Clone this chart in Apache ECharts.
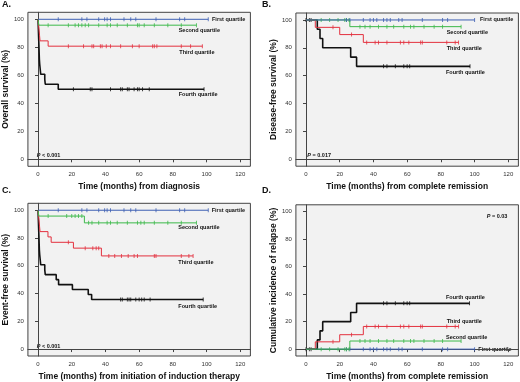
<!DOCTYPE html>
<html>
<head>
<meta charset="utf-8">
<script src="https://cdn.jsdelivr.net/npm/echarts@6/dist/echarts.min.js"></script>
<style>
  html, body { margin: 0; padding: 0; background: #fff; }
  #chart { width: 520px; height: 382px; }
</style>
</head>
<body>
<div id="chart"></div>
<script>
// tick labels
const xTicks = [0, 20, 40, 60, 80, 100, 120];
const yTicks = [0, 20, 40, 60, 80, 100];

// A. overall survival
const aFirstT = [0, 101];
const aFirstS = [100, 100];
const aFirstCens = [12, 26, 29, 36, 39.5, 41, 43, 51, 55, 58, 70, 84, 87, 101];
const aSecondT = [0, 0.5, 94];
const aSecondS = [100, 95.8, 95.8];
const aSecondCens = [6, 18, 22, 24, 26, 28, 30, 36, 41, 43, 47, 53, 59, 60, 63, 69, 77, 85, 94];
const aThirdT = [0, 0.3, 0.6, 0.9, 1.2, 6, 97.5];
const aThirdS = [100, 96.2, 92.3, 88.5, 84.6, 80.8, 80.8];
const aThirdCens = [18, 27, 32, 33, 37, 38, 40.5, 43, 49, 56, 60, 68, 69, 70.5, 85, 90.5, 97.5];
const aFourthT = [0, 0.2, 0.4, 0.6, 0.8, 1.0, 1.3, 1.6, 4, 4.3, 12, 98.5];
const aFourthS = [100, 92.9, 85.7, 78.6, 71.4, 67.9, 64.3, 60.7, 57.1, 53.6, 50, 50];
const aFourthCens = [21, 31, 32, 43, 49, 50, 53, 54, 57, 59, 60, 62, 66, 98.5];

// B. disease-free survival
const bFirstT = [0, 100];
const bFirstS = [100, 100];
const bFirstCens = [24, 26, 34, 38, 40, 42, 46, 48, 50, 55, 57, 69, 81, 84, 100];
const bSecondT = [0, 26, 92];
const bSecondS = [100, 95.2, 95.2];
const bSecondCens = [9, 14, 19, 23, 24, 25.5, 32, 35, 38, 43, 48, 52, 58, 62, 64, 70, 76, 81, 92];
const bThirdT = [0, 5.5, 20, 34, 90.5];
const bThirdS = [100, 94.7, 89.5, 83.9, 83.9];
const bThirdCens = [16, 27, 36, 41, 43, 48, 56, 58, 61, 68, 69, 83.5, 88.5, 90.5];
const bFourthT = [0, 6.7, 8.3, 9.9, 26.5, 30, 97.3];
const bFourthS = [100, 93.3, 86.7, 80, 73.3, 66.7, 66.7];
const bFourthCens = [0, 2, 3, 46, 48, 53, 58, 60, 61.5, 97.3];

// C. event-free survival
const cFirstT = [0, 101];
const cFirstS = [100, 100];
const cFirstCens = [12, 26, 29, 36, 39.5, 41, 43, 51, 55, 58, 70, 84, 87, 101];
const cSecondT = [0, 0.5, 27.5, 94];
const cSecondS = [100, 95.8, 90.9, 90.9];
const cSecondCens = [6, 17, 20, 22, 24, 26, 30, 32, 36, 41, 43, 47, 53, 59, 61, 63, 69, 77, 85, 94];
const cThirdT = [0, 0.3, 0.6, 0.9, 1.2, 5.9, 7.8, 21, 37.6, 92];
const cThirdS = [100, 96.2, 92.3, 88.5, 84.6, 80.8, 76.9, 72.7, 67.1, 67.1];
const cThirdCens = [18, 28, 32.5, 34.5, 36, 42, 45.5, 49.5, 53.5, 57, 59, 69, 70, 85, 89.5, 92];
const cFourthT = [0, 0.2, 0.4, 0.6, 0.8, 1.0, 1.3, 1.6, 4, 4.3, 10.8, 12.2, 20.4, 29.8, 31.8, 98];
const cFourthS = [100, 92.9, 85.7, 78.6, 71.4, 67.9, 64.3, 60.7, 57.1, 53.6, 50, 46.4, 42.9, 39.3, 35.7, 35.7];
const cFourthCens = [49, 50, 53, 54, 55, 58, 60, 61.5, 63, 66.5, 98];

// D. cumulative incidence of relapse
const dFirstT = [0, 100];
const dFirstS = [0, 0];
const dFirstCens = [24, 26, 34, 38, 40, 42, 46, 48, 50, 55, 57, 69, 81, 84, 100];
const dSecondT = [0, 26, 92];
const dSecondS = [0, 5.9, 5.9];
const dSecondCens = [9, 14, 19, 23, 24, 25.5, 32, 35, 38, 43, 48, 52, 58, 62, 64, 70, 76, 81, 92];
const dThirdT = [0, 5.5, 20, 34, 90.5];
const dThirdS = [0, 5.3, 10.5, 16.5, 16.5];
const dThirdCens = [16, 27, 36, 41, 43, 48, 56, 58, 61, 68, 69, 83.5, 88.5, 90.5];
const dFourthT = [0, 6.7, 8.3, 9.9, 26.5, 30, 97];
const dFourthS = [0, 6.7, 13.3, 20, 26.7, 33.3, 33.3];
const dFourthCens = [0, 2, 3, 46, 48, 53, 58, 60, 61.5, 97];

const FONT = '"Liberation Sans", Arial, sans-serif';
const COLORS = { first: '#3d5fb3', second: '#3cb94a', third: '#e3303e', fourth: '#111111' };

const panels = [
  { left: 26, top: 12.3, width: 224.4, height: 154, xName: 'Time (months) from diagnosis', yName: 'Overall survival (%)',
    curves: [
      ['fourth', aFourthT, aFourthS, aFourthCens], ['third', aThirdT, aThirdS, aThirdCens],
      ['second', aSecondT, aSecondS, aSecondCens], ['first', aFirstT, aFirstS, aFirstCens]] },
  { left: 295.9, top: 13, width: 222.5, height: 153.2, xName: 'Time (months) from complete remission', yName: 'Disease-free survival (%)',
    curves: [
      ['fourth', bFourthT, bFourthS, bFourthCens], ['third', bThirdT, bThirdS, bThirdCens],
      ['second', bSecondT, bSecondS, bSecondCens], ['first', bFirstT, bFirstS, bFirstCens]] },
  { left: 26, top: 203.3, width: 224.4, height: 154, xName: 'Time (months) from initiation of induction therapy', yName: 'Event-free survival (%)',
    curves: [
      ['fourth', cFourthT, cFourthS, cFourthCens], ['third', cThirdT, cThirdS, cThirdCens],
      ['second', cSecondT, cSecondS, cSecondCens], ['first', cFirstT, cFirstS, cFirstCens]] },
  { left: 295.9, top: 204.8, width: 222.5, height: 152.5, xName: 'Time (months) from complete remission', yName: 'Cumulative incidence of relapse (%)',
    curves: [
      ['fourth', dFourthT, dFourthS, dFourthCens], ['third', dThirdT, dThirdS, dThirdCens],
      ['first', dFirstT, dFirstS, dFirstCens], ['second', dSecondT, dSecondS, dSecondCens]] }
];

function stepData(T, S) {
  return T.map((t, i) => [t, S[i]]);
}
// censored points sit on the curve level at that time
function censData(T, S, C) {
  return C.map(c => {
    let v = S[0];
    for (let i = 0; i < T.length; i++) if (T[i] <= c) v = S[i];
    return [c, v];
  });
}

const nameStyle = { fontFamily: FONT, fontWeight: 'bold', fontSize: 8.5, color: '#111' };
const labelStyle = { fontFamily: FONT, fontSize: 6, color: '#333' };

const grid = [], xAxis = [], yAxis = [], series = [];
panels.forEach((p, k) => {
  grid.push({ left: p.left, top: p.top, width: p.width, height: p.height, show: true,
    backgroundColor: '#f2f2f2', borderColor: '#444', borderWidth: 1 });
  xAxis.push({
    type: 'value', gridIndex: k, min: -6, max: 126,
    name: p.xName, nameLocation: 'middle', nameGap: 16, nameTextStyle: nameStyle,
    axisLine: { show: true, lineStyle: { color: '#444', width: 1 } },
    axisTick: { show: true, length: 3, customValues: xTicks, lineStyle: { color: '#444' } },
    axisLabel: Object.assign({ customValues: xTicks, margin: 5 }, labelStyle),
    splitLine: { show: false }
  });
  yAxis.push({
    type: 'value', gridIndex: k, min: -5, max: 105,
    name: p.yName, nameLocation: 'middle', nameGap: k % 2 ? 18 : 16, nameRotate: 90, nameTextStyle: nameStyle,
    axisLine: { show: true, lineStyle: { color: '#444', width: 1 } },
    axisTick: { show: true, length: 3, customValues: yTicks, lineStyle: { color: '#444' } },
    axisLabel: Object.assign({ customValues: yTicks, margin: 4 }, labelStyle),
    splitLine: { show: false }
  });
  p.curves.forEach(([q, T, S, C]) => {
    series.push({
      type: 'line', step: 'end', xAxisIndex: k, yAxisIndex: k, showSymbol: false, silent: true,
      data: stepData(T, S),
      lineStyle: { color: COLORS[q], width: q === 'fourth' ? 1.6 : 1 }
    });
    series.push({
      type: 'scatter', xAxisIndex: k, yAxisIndex: k, silent: true,
      symbol: 'rect', symbolSize: [1, 4],
      itemStyle: { color: COLORS[q] },
      data: censData(T, S, C)
    });
  });
});

function txt(x, y, text, size, extra) {
  return { type: 'text', x, y, silent: true,
    style: Object.assign({ text, fontFamily: FONT, fontSize: size, fontWeight: 'bold', fill: '#111',
      textVerticalAlign: 'middle' }, extra || {}) };
}
function pval(x, y, rest) {
  return { type: 'text', x, y, silent: true,
    style: { text: '{i|P}' + rest, fontFamily: FONT, fontSize: 5.5, fontWeight: 'bold', fill: '#111',
      textVerticalAlign: 'middle',
      rich: { i: { fontStyle: 'italic', fontWeight: 'bold', fontSize: 5.5, fontFamily: FONT, fill: '#111' } } } };
}

const graphic = [
  txt(2, 4.5, 'A.', 9), txt(262, 4.5, 'B.', 9), txt(2, 190.5, 'C.', 9), txt(262, 190.5, 'D.', 9),
  txt(212, 19, 'First quartile', 5.5), txt(178.7, 30.7, 'Second quartile', 5.5),
  txt(179.3, 52.3, 'Third quartile', 5.5), txt(178.7, 94.3, 'Fourth quartile', 5.5),
  txt(480, 19, 'First quartile', 5.5), txt(446.7, 32.3, 'Second quartile', 5.5),
  txt(446.7, 48.3, 'Third quartile', 5.5), txt(446, 72.7, 'Fourth quartile', 5.5),
  txt(211.7, 210, 'First quartile', 5.5), txt(178.3, 227.7, 'Second quartile', 5.5),
  txt(178.3, 262.7, 'Third quartile', 5.5), txt(178.3, 306, 'Fourth quartile', 5.5),
  txt(446, 297.7, 'Fourth quartile', 5.5), txt(446.7, 321, 'Third quartile', 5.5),
  txt(446, 337, 'Second quartile', 5.5), txt(478.3, 349.3, 'First quartile', 5.5),
  pval(36.7, 155, ' < 0.001'), pval(307.3, 155, ' = 0.017'),
  pval(36.7, 346, ' < 0.001'), pval(486.7, 216, ' = 0.03')
];

const myChart = echarts.init(document.getElementById('chart'), null, { renderer: 'canvas' });
myChart.setOption({
  animation: false,
  backgroundColor: '#ffffff',
  grid, xAxis, yAxis, series, graphic
});
</script>
</body>
</html>
